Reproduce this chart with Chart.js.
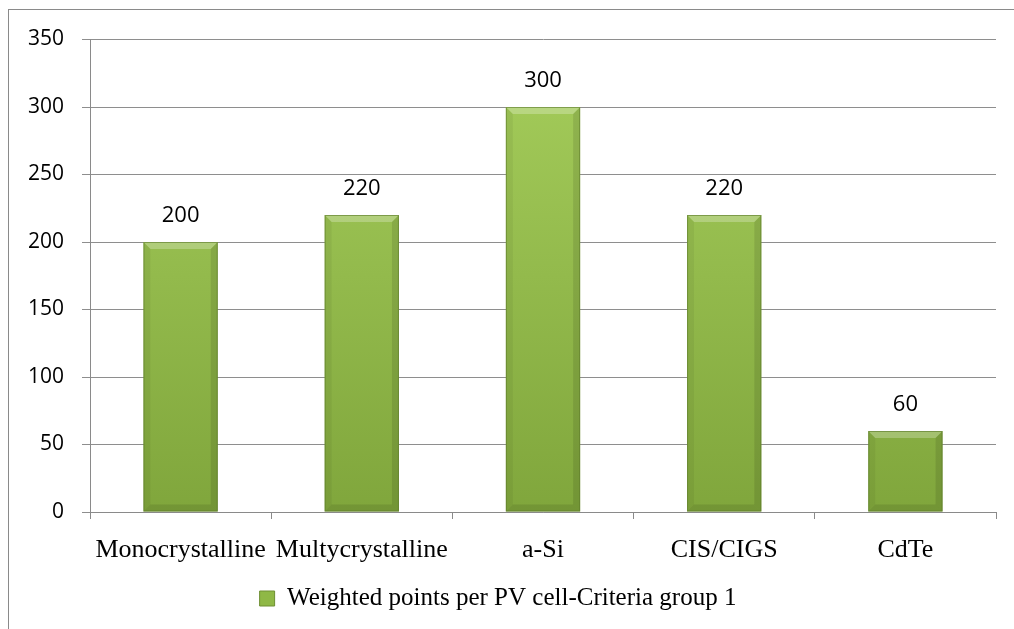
<!DOCTYPE html>
<html>
<head>
<meta charset="utf-8">
<script src="https://cdn.jsdelivr.net/npm/chart.js@4.4.0/dist/chart.umd.min.js"></script>
<style>
  html, body { margin: 0; padding: 0; background: #fff; }
  #wrap { position: relative; width: 1014px; height: 629px; overflow: hidden; }
  #frame { position: absolute; left: 8px; top: 9px; width: 1100px; height: 700px;
           border-left: 1px solid #8a8a8a; border-top: 1px solid #8a8a8a; }
  canvas { position: absolute; left: 0; top: 0; }
</style>
</head>
<body>
<div id="wrap">
  <div id="frame"></div>
  <canvas id="c" width="1014" height="629"></canvas>
</div>
<script>
const categories = ["Monocrystalline", "Multycrystalline", "a-Si", "CIS/CIGS", "CdTe"];
const values = [200, 220, 300, 220, 60];
const seriesName = "Weighted points per PV cell-Criteria group 1";
const yMin = 0, yMax = 350, yStep = 50;

const sansFont = "'Open Sans', 'DejaVu Sans', sans-serif";
const serifFont = "'Liberation Serif', 'DejaVu Serif', serif";

function barGradient(ctx) {
  const chart = ctx.chart;
  const area = chart.chartArea;
  if (!area) return '#94bd4b';
  const g = chart.ctx.createLinearGradient(0, area.top, 0, area.bottom);
  g.addColorStop(0, '#a6ce5c');
  g.addColorStop(1, '#80a63c');
  return g;
}

const bevelPlugin = {
  id: 'bevel',
  afterDatasetsDraw(chart) {
    const ctx = chart.ctx;
    const meta = chart.getDatasetMeta(0);
    meta.data.forEach((bar, i) => {
      const p = bar.getProps(['x', 'y', 'base', 'width'], true);
      const l = p.x - p.width / 2, r = p.x + p.width / 2, t = p.y, b = p.base;
      const s = 7;
      ctx.save();
      ctx.fillStyle = 'rgba(255,255,255,0.25)';
      ctx.beginPath(); ctx.moveTo(l, t); ctx.lineTo(r, t); ctx.lineTo(r - s, t + s); ctx.lineTo(l + s, t + s); ctx.closePath(); ctx.fill();
      ctx.fillStyle = 'rgba(0,0,0,0.05)';
      ctx.beginPath(); ctx.moveTo(l, t); ctx.lineTo(l + s, t + s); ctx.lineTo(l + s, b - s); ctx.lineTo(l, b); ctx.closePath(); ctx.fill();
      ctx.fillStyle = 'rgba(0,0,0,0.10)';
      ctx.beginPath(); ctx.moveTo(r, t); ctx.lineTo(r - s, t + s); ctx.lineTo(r - s, b - s); ctx.lineTo(r, b); ctx.closePath(); ctx.fill();
      ctx.fillStyle = 'rgba(0,0,0,0.10)';
      ctx.beginPath(); ctx.moveTo(l, b); ctx.lineTo(r, b); ctx.lineTo(r - s, b - s); ctx.lineTo(l + s, b - s); ctx.closePath(); ctx.fill();
      ctx.strokeStyle = 'rgba(90,120,40,0.6)';
      ctx.lineWidth = 1;
      ctx.strokeRect(l + 0.5, t + 0.5, p.width - 1, b - t - 1);
      ctx.fillStyle = '#000';
      ctx.font = '22px ' + sansFont;
      ctx.textAlign = 'center';
      ctx.textBaseline = 'middle';
      ctx.fillText(String(values[i]), p.x, t - 26);
      ctx.restore();
    });
  }
};

new Chart(document.getElementById('c'), {
  type: 'bar',
  data: {
    labels: categories,
    datasets: [{
      label: seriesName,
      data: values,
      backgroundColor: barGradient,
      borderWidth: 0,
      barPercentage: 0.82,
      categoryPercentage: 0.5
    }]
  },
  options: {
    responsive: false,
    animation: false,
    devicePixelRatio: 1,
    layout: { padding: { left: 0, right: 18, top: 39.5, bottom: 8 } },
    scales: {
      x: {
        grid: { display: true, drawOnChartArea: false, color: '#8a8a8a', tickLength: 7, offset: true },
        border: { color: '#8a8a8a' },
        ticks: { color: '#000', font: { family: serifFont, size: 26 }, padding: 16, maxRotation: 0, autoSkip: false },
        afterFit(scale) { scale.height = 64; }
      },
      y: {
        min: yMin, max: yMax,
        grid: { color: '#8e8e8e', tickLength: 8 },
        border: { color: '#8a8a8a' },
        ticks: { stepSize: yStep, color: '#000', font: { family: sansFont, size: 21 }, padding: 18 },
        afterFit(scale) { scale.width = 90; }
      }
    },
    plugins: {
      legend: {
        position: 'bottom',
        labels: {
          color: '#000',
          font: { family: serifFont, size: 25 },
          boxWidth: 15, boxHeight: 15,
          padding: 10,
          generateLabels(chart) {
            return [{
              text: seriesName,
              fillStyle: '#8fb846',
              strokeStyle: '#6e8f33',
              lineWidth: 1,
              datasetIndex: 0,
              hidden: false
            }];
          }
        }
      },
      tooltip: { enabled: false }
    }
  },
  plugins: [bevelPlugin]
});
</script>
</body>
</html>
